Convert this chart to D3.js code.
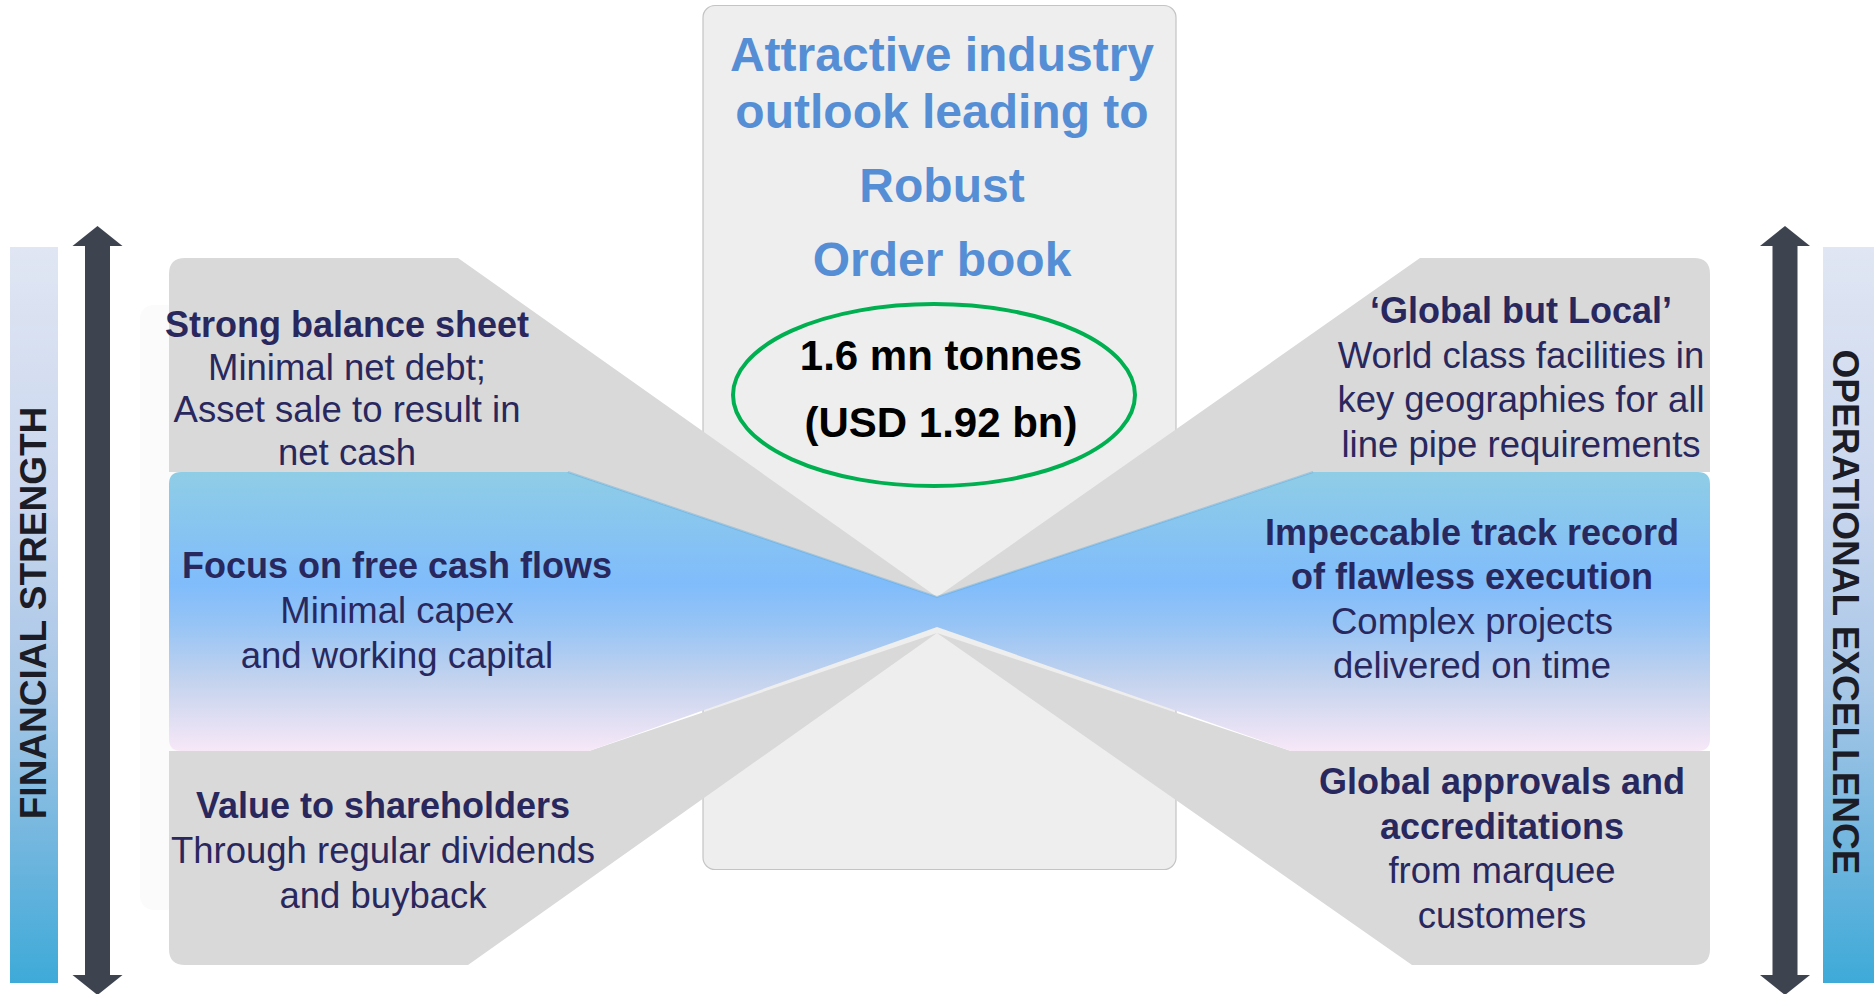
<!DOCTYPE html>
<html>
<head>
<meta charset="utf-8">
<script src="https://cdn.jsdelivr.net/npm/d3@7"></script>
<style>
  body { margin: 0; background: #fff; }
  svg { display: block; font-family: "Liberation Sans", Arial, sans-serif; }
</style>
</head>
<body>
<script>
// text content of the diagram
const titleLines = ["Attractive industry", "outlook leading to", "Robust", "Order book"];
const orderBookLines = ["1.6 mn tonnes", "(USD 1.92 bn)"];
const sideLabels = ["FINANCIAL STRENGTH", "OPERATIONAL EXCELLENCE"];
const panelHeads = [
  ["Strong balance sheet"],
  ["Focus on free cash flows"],
  ["Value to shareholders"],
  ["\u2018Global but Local\u2019"],
  ["Impeccable track record", "of flawless execution"],
  ["Global approvals and", "accreditations"]
];
const panelNotes = [
  ["Minimal net debt;", "Asset sale to result in", "net cash"],
  ["Minimal capex", "and working capital"],
  ["Through regular dividends", "and buyback"],
  ["World class facilities in", "key geographies for all", "line pipe requirements"],
  ["Complex projects", "delivered on time"],
  ["from marquee", "customers"]
];

const width = 1874;
const height = 994;
const navy = "#29285e";

const svg = d3.select("body").append("svg").attr("width", width).attr("height", height);
const defs = svg.append("defs");

//Gradients
const barGrad = defs.append("linearGradient").attr("id", "barGrad")
  .attr("x1", 0).attr("y1", 0).attr("x2", 0).attr("y2", 1);
[[0, "#e0e6f3"], [0.35, "#c9d6ee"], [0.6, "#a8c7e7"], [0.8, "#75b7df"], [1, "#3eaad8"]]
  .forEach(([o, c]) => barGrad.append("stop").attr("offset", o).attr("stop-color", c));

const bandGrad = defs.append("linearGradient").attr("id", "bandGrad")
  .attr("gradientUnits", "userSpaceOnUse")
  .attr("x1", 0).attr("y1", 472).attr("x2", 0).attr("y2", 751);
[[0, "#8fcde6"], [0.4, "#80bcfb"], [0.55, "#97c4f5"], [0.75, "#c4d3ee"], [1, "#f7e8f7"]]
  .forEach(([o, c]) => bandGrad.append("stop").attr("offset", o).attr("stop-color", c));

// layout of the panel block
const cx = 937;
const L = 169, R = 1710;
const line = d3.line();

//Side bars and arrows
svg.append("rect").attr("x", 10).attr("y", 247).attr("width", 48).attr("height", 736).attr("fill", "url(#barGrad)");
svg.append("rect").attr("x", 1823).attr("y", 247).attr("width", 51).attr("height", 736).attr("fill", "url(#barGrad)");

const arrow = (x) => {
  const s = 12.5, h = 25;
  return line([[x, 226], [x + h, 246], [x + s, 246], [x + s, 975], [x + h, 975], [x, 995],
    [x - h, 975], [x - s, 975], [x - s, 246], [x - h, 246]]) + "Z";
};
svg.selectAll(".arrow").data([97.5, 1785]).enter().append("path")
  .attr("class", "arrow").attr("d", (d) => arrow(d)).attr("fill", "#3d4450");

svg.append("text").attr("transform", "translate(46,613) rotate(-90)")
  .attr("text-anchor", "middle").attr("font-size", 37).attr("font-weight", "bold")
  .attr("fill", "#1c1c26").text(sideLabels[0]);
svg.append("text").attr("transform", "translate(1833,612) rotate(90)")
  .attr("text-anchor", "middle").attr("font-size", 37).attr("font-weight", "bold")
  .attr("fill", "#1c1c26").text(sideLabels[1]);

//faint shadow behind left panels
svg.append("rect").attr("x", 140).attr("y", 305).attr("width", 40).attr("height", 605)
  .attr("rx", 14).attr("fill", "#fbfbfb");

//Center box
svg.append("rect").attr("x", 703).attr("y", 5.5).attr("width", 473).attr("height", 864)
  .attr("rx", 12).attr("fill", "#eeeeee").attr("stroke", "#c4c4c4").attr("stroke-width", 1.2);

//Gray panels
const r = 16;
const grayPaths = [
  `M${L},${258 + r} Q${L},258 ${L + r},258 L458,258 L${cx},597 L568,472 L${L},472 Z`,
  `M1420,258 L${R - r},258 Q${R},258 ${R},${258 + r} L${R},472 L1313,472 L${cx},597 Z`,
  `M${L},751 L589,751 L${cx},633 L468,965 L${L + r},965 Q${L},965 ${L},${965 - r} Z`,
  `M1291,751 L${R},751 L${R},${965 - r} Q${R},965 ${R - r},965 L1412,965 L${cx},633 Z`
];
svg.selectAll(".gray").data(grayPaths).enter().append("path")
  .attr("class", "gray").attr("d", (d) => d).attr("fill", "#d9d9d9");

//Blue band
const br = 12;
svg.append("path")
  .attr("d", `M${L + br},472 L568,472 L${cx},597 L1313,472 L${R - br},472 Q${R},472 ${R},${472 + br}
    L${R},${751 - br} Q${R},751 ${R - br},751 L1291,751 L${cx},627 L589,751 L${L + br},751
    Q${L},751 ${L},${751 - br} L${L},${472 + br} Q${L},472 ${L + br},472 Z`)
  .attr("fill", "url(#bandGrad)");
svg.append("path").attr("d", line([[568, 472], [cx, 597], [1313, 472]]))
  .attr("fill", "none").attr("stroke", "#5aa6d6").attr("stroke-opacity", 0.4).attr("stroke-width", 2);

//Title
const titleY = [71, 128, 202, 276];
svg.selectAll(".title").data(titleLines).enter().append("text")
  .attr("class", "title").attr("x", 942).attr("y", (d, i) => titleY[i])
  .attr("text-anchor", "middle").attr("font-size", 48).attr("font-weight", "bold")
  .attr("fill", "#558ed5").text((d) => d);

//Order book ellipse
svg.append("ellipse").attr("cx", 934).attr("cy", 395).attr("rx", 201).attr("ry", 91)
  .attr("fill", "none").attr("stroke", "#00b050").attr("stroke-width", 4);
svg.selectAll(".ob").data(orderBookLines).enter().append("text")
  .attr("class", "ob").attr("x", 941).attr("y", (d, i) => [370, 437][i])
  .attr("text-anchor", "middle").attr("font-size", 42).attr("font-weight", "bold")
  .attr("fill", "#000").text((d) => d);

//Panel texts
const anchors = [[347, 337, 42.7], [397, 578, 45], [383, 818, 45], [1521, 323, 44.7], [1472, 545, 44.4], [1502, 794, 44.7]];
panelHeads.forEach((heads, i) => {
  const [x, y0, step] = anchors[i];
  const rows = heads.map((t) => ({ t, b: true })).concat(panelNotes[i].map((t) => ({ t, b: false })));
  svg.append("g").selectAll("text").data(rows).enter().append("text")
    .attr("x", x).attr("y", (d, j) => y0 + j * step)
    .attr("text-anchor", "middle")
    .attr("font-size", (d) => (d.b ? 36 : 36.5))
    .attr("font-weight", (d) => (d.b ? "bold" : "normal"))
    .attr("fill", navy).text((d) => d.t);
});
</script>
</body>
</html>
